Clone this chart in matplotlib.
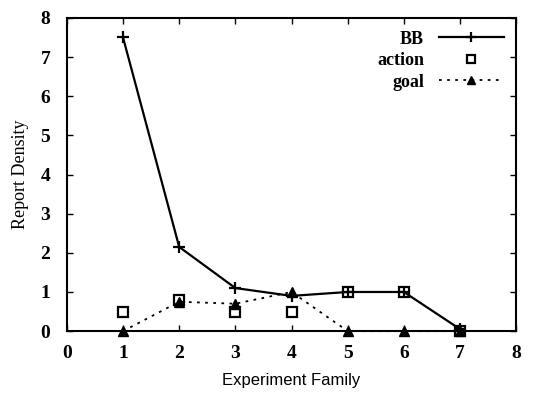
import matplotlib
matplotlib.use("Agg")
import matplotlib.pyplot as plt

x = [1, 2, 3, 4, 5, 6, 7]
bb = [7.5, 2.15, 1.1, 0.9, 1.0, 1.0, 0.05]
action = [0.5, 0.8, 0.5, 0.5, 1.0, 1.0, 0.0]
goal = [0.0, 0.75, 0.7, 1.0, 0.0, 0.0, 0.0]
xticks = [0, 1, 2, 3, 4, 5, 6, 7, 8]
yticks = [0, 1, 2, 3, 4, 5, 6, 7, 8]

fig = plt.figure(figsize=(5.48, 3.98), dpi=100)
ax = fig.add_axes([0.122, 0.168, 0.820, 0.787])

ax.plot(x, bb, color='black', lw=1.6, marker='+', ms=9, mew=1.6, label='BB', clip_on=False, zorder=3)
ax.plot(x, action, color='black', ls='none', marker='s', ms=7, mfc='none', mew=1.6, label='action', clip_on=False, zorder=3)
ax.plot(x, goal, color='black', lw=1.3, ls=(0, (1.5, 3)), marker='^', ms=7, label='goal', clip_on=False, zorder=3)

ax.set_xlim(0, 8)
ax.set_ylim(0, 8)
ax.set_xticks(xticks)
ax.set_yticks(yticks)
serif = {'family': 'Liberation Serif', 'weight': 'bold', 'size': 14}
ax.set_xticklabels([str(t) for t in xticks], fontdict=serif)
ax.set_yticklabels([str(t) for t in yticks], fontdict=serif)
ax.tick_params(direction='in', top=True, right=True, length=4, width=1)
ax.tick_params(axis='x', pad=10)
ax.tick_params(axis='y', pad=12)
for s in ax.spines.values():
    s.set_linewidth(1.5)

ax.set_xlabel('Experiment Family', fontdict={'family': 'Liberation Sans', 'size': 12}, labelpad=8)
ax.set_ylabel('Report Density', fontdict={'family': 'Liberation Serif', 'size': 13}, labelpad=8)

leg = ax.legend(loc='upper right', frameon=False, markerfirst=False,
                prop={'family': 'Liberation Serif', 'size': 13, 'weight': 'bold'}, handlelength=3.6,
                labelspacing=0.25, borderaxespad=0.3, markerscale=0.8)
for t in leg.get_texts():
    t.set_ha('right')

fig.savefig('out.png', dpi=100)
